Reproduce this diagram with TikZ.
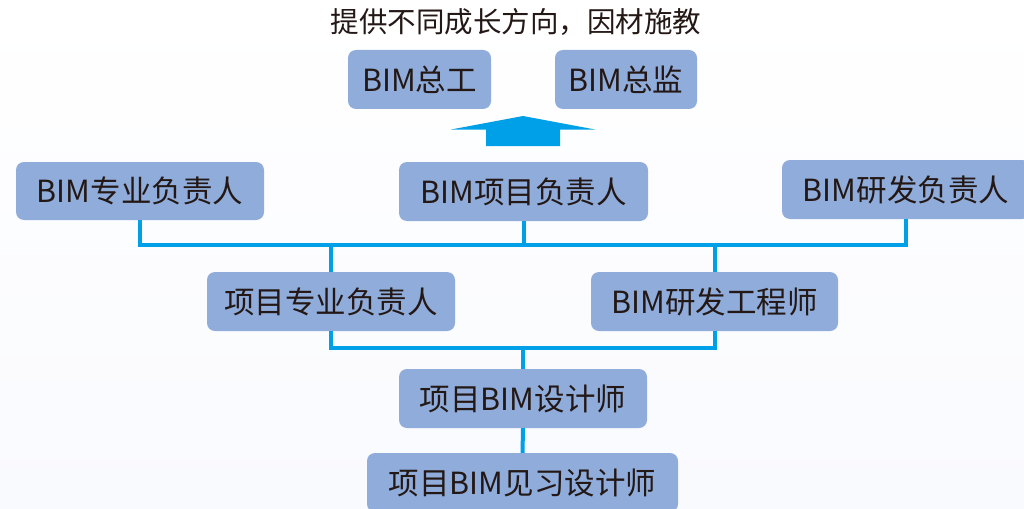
\documentclass[tikz,border=0pt]{standalone}
\usepackage{fontspec}
\setmainfont{Noto Sans CJK SC}
\definecolor{boxfill}{RGB}{143,172,218}
\definecolor{conncol}{RGB}{0,160,233}
\definecolor{txtcol}{RGB}{35,24,21}
\definecolor{bgbottom}{RGB}{249,250,254}
\begin{document}
\begin{tikzpicture}[x=1pt,y=-1pt,
  role/.style={fill=boxfill,draw=none,rounded corners=8pt,text=txtcol,
    inner sep=0pt,font=\fontsize{30.5}{33}\selectfont},
  conn/.style={draw=conncol,line width=4pt,line join=miter}]
\useasboundingbox (0,0) rectangle (1024,508);
\shade[top color=white,bottom color=bgbottom] (0,0) rectangle (1024,508);
\begin{scope}
\clip (0,0) rectangle (1024,508);
% nodes
\node[role,minimum width=143pt,minimum height=59pt] (zg) at (419.5,79.5) {BIM总工};
\node[role,minimum width=142pt,minimum height=59pt] (zj) at (626,79.5) {BIM总监};
\node[role,minimum width=248pt,minimum height=58pt] (zy) at (140,191) {BIM专业负责人};
\node[role,minimum width=249pt,minimum height=59pt] (xm) at (523.5,191.5) {BIM项目负责人};
\node[role,minimum width=248pt,minimum height=59pt] (yf) at (906,189.5) {BIM研发负责人};
\node[role,minimum width=248pt,minimum height=59pt] (xz) at (331,301.5) {项目专业负责人};
\node[role,minimum width=247pt,minimum height=59pt] (yg) at (714.5,301.5) {BIM研发工程师};
\node[role,minimum width=248pt,minimum height=59pt] (sj) at (523,398.5) {项目BIM设计师};
\node[role,minimum width=311pt,minimum height=59pt] (jx) at (522.5,482.5) {项目BIM见习设计师};
\node[text=txtcol,font=\fontsize{28.5}{31}\selectfont,inner sep=0pt] (title) at (516,22) {提供不同成长方向，因材施教};
% arrow
\fill[conncol] (523,116) -- (595,129.5) -- (560,129.5) -- (560,146) -- (486,146) -- (486,129.5) -- (451,129.5) -- cycle;
% connectors
\coordinate (busA) at (0,245);
\coordinate (busB) at (0,348);
\draw[conn] (zy.south) -- (zy.south |- busA) -- (yf.south |- busA) -- (yf.south);
\draw[conn] (xm.south) -- (xm.south |- busA);
\draw[conn] (xz.north) -- (xz.north |- busA);
\draw[conn] (yg.north) -- (yg.north |- busA);
\draw[conn] (xz.south) -- (xz.south |- busB) -- (yg.south |- busB) -- (yg.south);
\draw[conn] (sj.north) -- (sj.north |- busB);
\draw[conn] (sj.south) -- (jx.north);
\end{scope}
\end{tikzpicture}
\end{document}
